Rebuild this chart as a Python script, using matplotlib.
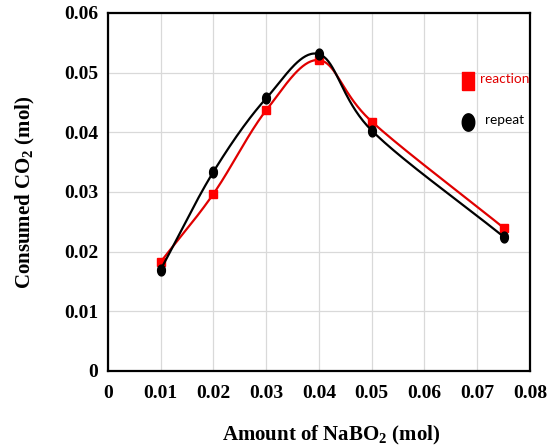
import numpy as np
import matplotlib
matplotlib.use('Agg')
import matplotlib.pyplot as plt
from matplotlib.path import Path

# data
nabo2 = [0.01, 0.02, 0.03, 0.04, 0.05, 0.075]
reaction = [0.0183, 0.0297, 0.0437, 0.0521, 0.0418, 0.0240]
repeat = [0.0170, 0.0334, 0.0457, 0.0531, 0.0403, 0.0225]

x_ticks = [0, 0.01, 0.02, 0.03, 0.04, 0.05, 0.06, 0.07, 0.08]
x_tick_labels = ['0', '0.01', '0.02', '0.03', '0.04', '0.05', '0.06', '0.07', '0.08']
y_ticks = [0, 0.01, 0.02, 0.03, 0.04, 0.05, 0.06]
y_tick_labels = ['0', '0.01', '0.02', '0.03', '0.04', '0.05', '0.06']


def smooth(x, y, n=40, xs=0.08, ys=0.06):
    # Excel-like smoothed line: Catmull-Rom through the points (in axis-scaled units)
    p = np.column_stack([np.asarray(x) / xs, np.asarray(y) / ys])
    p = np.vstack([p[0] - (p[1] - p[0]), p, p[-1] + (p[-1] - p[-2])])
    out = []
    t = np.linspace(0, 1, n)[:, None]
    for i in range(1, len(p) - 2):
        p0, p1, p2, p3 = p[i - 1], p[i], p[i + 1], p[i + 2]
        seg = 0.5 * ((2 * p1) + (-p0 + p2) * t + (2 * p0 - 5 * p1 + 4 * p2 - p3) * t ** 2
                     + (-p0 + 3 * p1 - 3 * p2 + p3) * t ** 3)
        out.append(seg)
    c = np.vstack(out)
    return c[:, 0] * xs, c[:, 1] * ys


plt.rcParams['font.family'] = ['Liberation Serif', 'DejaVu Serif']
plt.rcParams['mathtext.fontset'] = 'custom'
plt.rcParams['mathtext.rm'] = 'Liberation Serif:bold'
plt.rcParams['mathtext.bf'] = 'Liberation Serif:bold'

# tall markers for the legend keys
tall_square = Path([(-0.33, -0.5), (0.33, -0.5), (0.33, 0.5), (-0.33, 0.5), (-0.33, -0.5)])
ang = np.linspace(0, 2 * np.pi, 60)
tall_circle = Path(np.column_stack([0.36 * np.cos(ang), 0.5 * np.sin(ang)]))

fig = plt.figure(figsize=(5.56, 4.46), dpi=100)
ax = fig.add_axes([0.1942, 0.1682, 0.759, 0.8027])

sx, sy = smooth(nabo2, reaction)
ax.plot(sx, sy, color='#e00000', lw=1.6, zorder=3)
ax.plot(nabo2, reaction, 's', color='#ff0000', ms=6, zorder=4)

sx, sy = smooth(nabo2, repeat)
ax.plot(sx, sy, color='black', lw=1.6, zorder=5)
ax.plot(nabo2, repeat, marker=tall_circle, ls='', color='black', ms=7.8, zorder=6)

ax.set_xlim(0, 0.08)
ax.set_ylim(0, 0.06)
ax.set_xticks(x_ticks)
ax.set_xticklabels(x_tick_labels)
ax.set_yticks(y_ticks)
ax.set_yticklabels(y_tick_labels)
ax.tick_params(length=0, labelsize=14)
ax.tick_params(axis='x', pad=10)
ax.tick_params(axis='y', pad=7)
for lab in ax.get_xticklabels() + ax.get_yticklabels():
    lab.set_fontweight('bold')

ax.grid(color='#d9d9d9', lw=0.9)
ax.set_axisbelow(True)
for s in ax.spines.values():
    s.set_linewidth(1.6)
    s.set_color('black')

ax.set_xlabel('Amount of NaBO$_2$ (mol)', fontsize=15, fontweight='bold')
ax.xaxis.set_label_coords(0.53, -0.148)
ax.set_ylabel('Consumed CO$_2$ (mol)', fontsize=15, fontweight='bold')
ax.yaxis.set_label_coords(-0.168, 0.5)

# legend keys drawn by hand, as in the original
ax.plot([0.854], [0.809], marker=tall_square, ms=12.5, color='#ff0000', ls='',
        transform=ax.transAxes, clip_on=False, zorder=7)
ax.plot([0.854], [0.696], marker=tall_circle, ms=12.5, color='black', ls='',
        transform=ax.transAxes, clip_on=False, zorder=7)
ax.text(0.882, 0.815, 'reaction', color='#e00000', fontsize=9.8, family='Lato',
        va='center', ha='left', transform=ax.transAxes)
ax.text(0.894, 0.70, 'repeat', color='black', fontsize=9.8, family='Lato',
        va='center', ha='left', transform=ax.transAxes)

fig.savefig('out.png', dpi=100)
